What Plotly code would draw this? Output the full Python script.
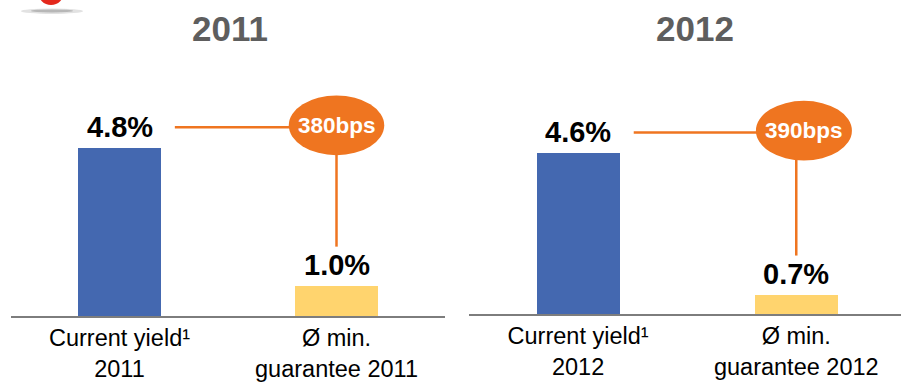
import plotly.graph_objects as go

# ---- data -------------------------------------------------------------
years = ["2011", "2012"]
current_yield = [4.8, 4.6]          # %
min_guarantee = [1.0, 0.7]          # %
spread_labels = ["380bps", "390bps"]
categories = [
    ["Current yield¹<br>2011", "Ø min.<br>guarantee 2011"],
    ["Current yield¹<br>2012", "Ø min.<br>guarantee 2012"],
]

# ---- styling ----------------------------------------------------------
W, H = 901, 382
BOTTOM = 63.5                    # space below the baseline for category labels
PLOT_H = H - BOTTOM
PX_PER_PCT = 36.6
Y0 = 0.17                        # value axis starts slightly above zero
RIGHT_LIFT = 2                   # right-hand baseline sits a touch higher

BLUE = "#4468b0"
YELLOW = "#ffd46e"
ORANGE = "#ef7520"
AXIS_GREY = "#7d7d7d"
TITLE_GREY = "#5e5e5e"
FONT = "Liberation Sans, Arial, sans-serif"

x_domains = [[11 / W, 445 / W], [469 / W, 1.0]]
x_ranges = [[-0.5, 1.5], [-0.5, 1.48]]
y_domains = [[0, 1], [RIGHT_LIFT / PLOT_H, 1]]
title_x = [230 / W, 695 / W]
bubble_dx = [0.0, 0.035]

fig = go.Figure()
shapes, annotations = [], []

for i, yr in enumerate(years):
    xa = "x" if i == 0 else "x2"
    ya = "y" if i == 0 else "y2"
    vals = [current_yield[i], min_guarantee[i]]
    # bars start at Y0, so their length is value - Y0 and their top sits at value
    fig.add_trace(go.Bar(
        x=[0, 1], y=[v - Y0 for v in vals], base=Y0, xaxis=xa, yaxis=ya,
        width=0.38, marker=dict(color=[BLUE, YELLOW], line=dict(width=0)),
        hoverinfo="skip", showlegend=False,
    ))

    # value labels above the bars
    for j, v in enumerate(vals):
        annotations.append(dict(
            x=j, y=v, xref=xa, yref=ya, text=f"<b>{v:.1f}%</b>",
            showarrow=False, yanchor="bottom", yshift=3,
            font=dict(family=FONT, size=29, color="black"),
        ))

    # connector: from the yield label across to the bubble, then down
    y_conn = current_yield[i] + 0.57
    y_low = min_guarantee[i] + 1.08
    bx = 1 + bubble_dx[i]
    by = y_conn + 0.05
    line = dict(color=ORANGE, width=2.5)
    shapes.append(dict(type="line", xref=xa, yref=ya, x0=0.255, x1=1,
                       y0=y_conn, y1=y_conn, line=line, layer="below"))
    shapes.append(dict(type="line", xref=xa, yref=ya, x0=1, x1=1,
                       y0=y_conn, y1=y_low, line=line, layer="below"))
    shapes.append(dict(type="circle", xref=xa, yref=ya,
                       x0=bx - 0.22, x1=bx + 0.22,
                       y0=by - 0.82, y1=by + 0.82,
                       fillcolor=ORANGE, line=dict(width=0)))
    annotations.append(dict(
        x=bx, y=by, xref=xa, yref=ya, text=f"<b>{spread_labels[i]}</b>",
        showarrow=False, yanchor="middle",
        font=dict(family=FONT, size=22.5, color="white"),
    ))

    # year heading
    annotations.append(dict(
        x=title_x[i], y=(PLOT_H - 29) / PLOT_H, xref="paper", yref="paper",
        text=f"<b>{yr}</b>", showarrow=False, xanchor="center", yanchor="middle",
        font=dict(family=FONT, size=35, color=TITLE_GREY),
    ))

# logo fragment in the top-left corner (red disc with soft shadow)
def py(p):
    return (PLOT_H - p) / PLOT_H

shapes.append(dict(type="circle", xref="paper", yref="paper",
                   x0=21 / W, x1=83 / W, y0=py(14), y1=py(8.5),
                   fillcolor="rgba(160,160,160,0.3)", line=dict(width=0)))
shapes.append(dict(type="circle", xref="paper", yref="paper",
                   x0=31 / W, x1=73 / W, y0=py(12.5), y1=py(9.5),
                   fillcolor="rgba(130,130,130,0.45)", line=dict(width=0)))
shapes.append(dict(type="circle", xref="paper", yref="paper",
                   x0=38 / W, x1=64 / W, y0=py(5), y1=py(-21),
                   fillcolor="#e4281c", line=dict(width=0)))

axis_common = dict(
    showline=True, linecolor=AXIS_GREY, linewidth=2, showgrid=False,
    zeroline=False, ticks="", tickvals=[0, 1], fixedrange=True,
    tickfont=dict(family=FONT, size=23.5, color="black"),
)
y_common = dict(visible=False, fixedrange=True)
fig.update_layout(
    width=W, height=H,
    margin=dict(l=0, r=0, t=0, b=BOTTOM),
    paper_bgcolor="white", plot_bgcolor="white",
    xaxis=dict(domain=x_domains[0], range=x_ranges[0], ticktext=categories[0],
               anchor="y", **axis_common),
    xaxis2=dict(domain=x_domains[1], range=x_ranges[1], ticktext=categories[1],
                anchor="y2", **axis_common),
    yaxis=dict(domain=y_domains[0], anchor="x",
               range=[Y0, Y0 + PLOT_H / PX_PER_PCT], **y_common),
    yaxis2=dict(domain=y_domains[1], anchor="x2",
                range=[Y0, Y0 + (PLOT_H - RIGHT_LIFT) / PX_PER_PCT], **y_common),
    shapes=shapes, annotations=annotations,
    bargap=0, showlegend=False,
)

fig.write_html("out.html", config={"displayModeBar": False})
